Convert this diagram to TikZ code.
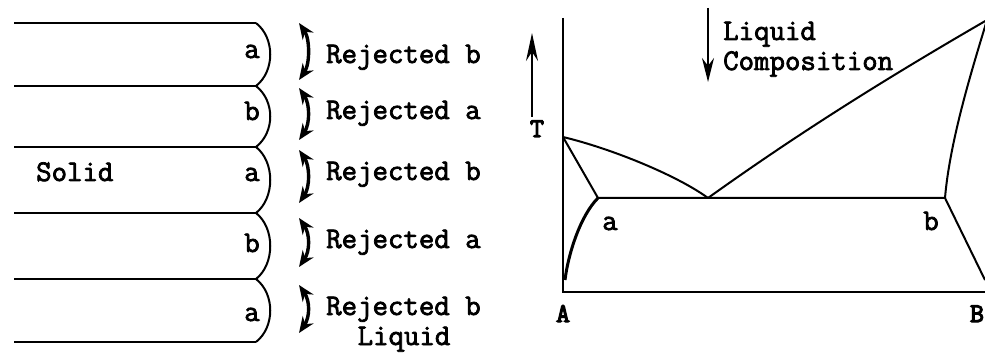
\documentclass[tikz,border=0pt]{standalone}
\usepackage{fontspec}
\newfontfamily\typefont{Latin Modern Mono}[FakeBold=2.5]
\newfontfamily\typeboldfont{Latin Modern Mono}[FakeBold=4.5]
\usetikzlibrary{arrows.meta}

\tikzset{
    txt/.style={font=\typefont\fontsize{30}{34}\selectfont, inner sep=0pt},
    bold txt/.style={font=\typeboldfont\fontsize{27}{30}\selectfont, inner sep=0pt},
    phase/.style={line width=2pt},
    rejected/.style={{Stealth[length=16pt, width=13pt]}-{Stealth[length=16pt, width=13pt]}, line width=3.4pt},
}

\begin{document}
\begin{tikzpicture}[x=1pt, y=-1pt]

    \useasboundingbox (0,0) rectangle (985,358);

    % solid lamellae
    \foreach \y [count=\i] in {23,86,147,213,279,342}{
        \coordinate (l\i) at (14,\y);
        \coordinate (r\i) at (256,\y);
        \draw[phase] (l\i) -- (r\i);
    }
    \foreach \i [evaluate=\i as \j using int(\i+1)] in {1,...,5}
        \draw[phase] (r\i) .. controls +(19,15) and +(19,-15) .. (r\j);

    \foreach \t/\yy [count=\i] in {a/58, b/120, a/181, b/252, a/321}
        \node[txt, anchor=base] (lam\i) at (252,\yy) {\t};
    \node[txt, anchor=base west] (solid) at (36,181) {Solid};

    % rejected solute
    \foreach \yt/\yb [count=\i] in {23/80, 88/140, 150/203, 218/267, 285/333}{
        \coordinate (t\i) at (299,\yt);
        \coordinate (b\i) at (299,\yb);
        \draw[rejected] (t\i) .. controls +(11,16) and +(11,-16) .. (b\i);
    }
    \foreach \t/\yy [count=\i] in {b/63, a/119, b/180, a/248, b/315}
        \node[txt, anchor=base west] (rej\i) at (326,\yy) {Rejected \t};
    \node[txt, anchor=base] (liquid) at (404,345) {Liquid};

    % phase diagram
    \coordinate (top) at (563,18);
    \coordinate (A) at (563,292);
    \coordinate (Bend) at (990,292);
    \coordinate (Tm) at (563,137);
    \coordinate (sa) at (598,198);
    \coordinate (eu) at (708,198);
    \coordinate (sb) at (945,198);
    \coordinate (TmB) at (987,20);
    \coordinate (Ab) at (565,280);
    \coordinate (Bb) at (985,280);

    \draw[phase] (top) -- (A) -- (Bend);
    \draw[phase] (Tm) .. controls +(50,12) and +(-30,-22) .. (eu);
    \draw[phase] (eu) .. controls +(95,-68) and +(-95,55) .. (TmB);
    \draw[phase] (Tm) -- (sa) -- (sb);
    \draw[line width=3pt] (sa) .. controls +(-18,18) and +(3,-25) .. (Ab);
    \draw[phase] (sb) -- (Bb);
    \draw[phase] (sb) .. controls +(5,-60) and +(-12,40) .. (TmB);

    \node[txt, anchor=base] (pa) at (610,230) {a};
    \node[txt, anchor=base] (pb) at (931,230) {b};
    \node[bold txt, anchor=base] (nA) at (563,322) {A};
    \node[bold txt, anchor=base] (nB) at (977,322) {B};
    \node[bold txt, anchor=base] (nT) at (537,137) {T};

    \coordinate (Tlow) at (532,117);
    \coordinate (Thigh) at (532,33);
    \draw[-{Stealth[length=28pt, width=12pt]}, line width=1.6pt] (Tlow) -- (Thigh);

    \coordinate (Ltop) at (708,8);
    \coordinate (Lbot) at (708,82);
    \draw[-{Stealth[length=24pt, width=12pt]}, line width=2pt] (Ltop) -- (Lbot);
    \node[txt, anchor=base west] (lq) at (723,40) {Liquid};
    \node[txt, anchor=base west] (comp) at (723,70) {Composition};

\end{tikzpicture}
\end{document}
